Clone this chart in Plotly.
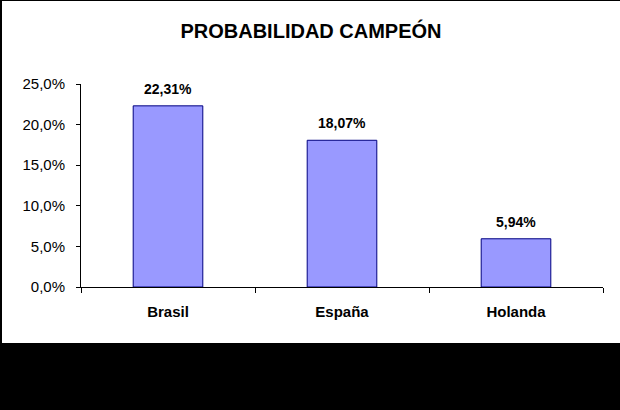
import plotly.graph_objects as go

categories = ["Brasil", "España", "Holanda"]
values = [0.2231, 0.1807, 0.0594]
labels = ["22,31%", "18,07%", "5,94%"]
title_text = "PROBABILIDAD CAMPEÓN"

W, H = 620, 410
ml, mr, mt, mb = 81, 17, 84, 123
pw, ph = W - ml - mr, H - mt - mb

def px_x(x):
    return (x - ml) / pw

def px_y(y):
    return (H - mb - y) / ph

FONT = "Arial, 'Liberation Sans', sans-serif"

fig = go.Figure(go.Bar(
    x=categories, y=values,
    marker=dict(color="#9999FF", line=dict(color="#000080", width=1)),
    width=0.4, cliponaxis=False,
))

annotations = [
    dict(x=c, y=v, xref="x", yref="y", text=t, showarrow=False,
         xanchor="center", yanchor="bottom", yshift=7,
         font=dict(family=FONT, size=14, color="black", weight="bold"))
    for c, v, t in zip(categories, values, labels)
]

fig.update_layout(
    width=W, height=H,
    margin=dict(l=ml, r=mr, t=mt, b=mb, pad=0),
    paper_bgcolor="black", plot_bgcolor="white",
    separators=",.",
    showlegend=False,
    annotations=annotations,
    title=dict(text=title_text, x=(311) / W, xanchor="center",
               y=1 - 31 / H, yanchor="middle",
               font=dict(family=FONT, size=20, color="black", weight="bold")),
    xaxis=dict(type="category", showline=True, linecolor="black", linewidth=1,
               ticks="outside", ticklen=5, tickcolor="black", tickson="boundaries",
               showgrid=False, tickfont=dict(family=FONT, size=15, color="black", weight="bold"),
               ticklabelstandoff=11, range=[-0.5, 2.5]),
    yaxis=dict(range=[0, 0.25], tickvals=[0, 0.05, 0.10, 0.15, 0.20, 0.25], tickformat=".1%",
               showline=True, linecolor="black", linewidth=1, ticks="outside", ticklen=4,
               tickcolor="black", showgrid=False, zeroline=False,
               tickfont=dict(family=FONT, size=15, color="black"), ticklabelstandoff=8),
    shapes=[dict(type="rect", xref="paper", yref="paper", layer="below",
                 x0=px_x(2), x1=px_x(W + 5), y0=px_y(343), y1=px_y(1),
                 fillcolor="white", line=dict(width=0))],
)

fig.write_html("out.html")
